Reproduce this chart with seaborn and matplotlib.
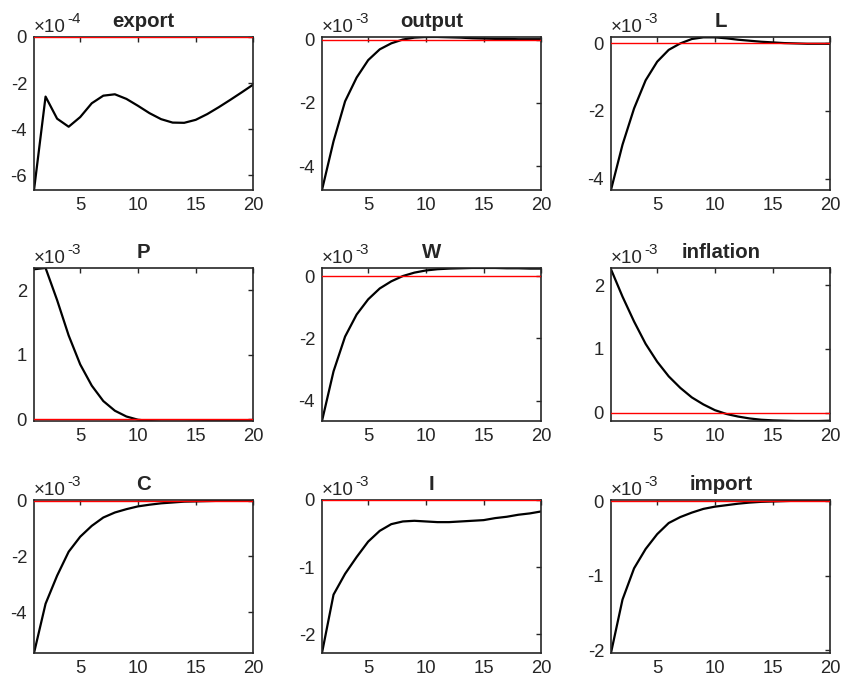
import numpy as np
import pandas as pd
import matplotlib
matplotlib.use("Agg")
import matplotlib.pyplot as plt
import seaborn as sns

# 脉冲响应数据（每个变量单独一个数组，单位见 scale）
horizon = list(range(1, 21))

export = [-6.65, -2.59, -3.55, -3.90, -3.48, -2.88, -2.55, -2.49, -2.69, -2.99,
          -3.31, -3.57, -3.72, -3.73, -3.60, -3.35, -3.05, -2.73, -2.40, -2.06]
output = [-4.75, -3.21, -1.95, -1.20, -0.65, -0.31, -0.12, 0.00, 0.06, 0.08,
          0.08, 0.07, 0.06, 0.04, 0.03, 0.02, 0.02, 0.01, 0.01, 0.01]
L = [-4.34, -3.00, -1.93, -1.10, -0.55, -0.20, -0.01, 0.12, 0.17, 0.17,
     0.14, 0.10, 0.07, 0.04, 0.02, 0.00, -0.01, -0.02, -0.02, -0.02]
P = [2.33, 2.35, 1.85, 1.30, 0.85, 0.52, 0.28, 0.13, 0.04, -0.01,
     -0.03, -0.04, -0.04, -0.04, -0.035, -0.03, -0.025, -0.02, -0.02, -0.02]
W = [-4.66, -3.06, -1.94, -1.23, -0.74, -0.39, -0.16, 0.01, 0.12, 0.19,
     0.23, 0.25, 0.26, 0.27, 0.27, 0.27, 0.26, 0.26, 0.25, 0.25]
inflation = [2.25, 1.82, 1.43, 1.08, 0.80, 0.57, 0.39, 0.24, 0.13, 0.04,
             -0.02, -0.06, -0.09, -0.11, -0.12, -0.125, -0.13, -0.13, -0.13, -0.125]
C = [-5.47, -3.70, -2.69, -1.83, -1.29, -0.90, -0.60, -0.42, -0.30, -0.20,
     -0.14, -0.09, -0.06, -0.03, -0.02, -0.01, 0.00, 0.01, 0.01, 0.01]
I = [-2.28, -1.41, -1.10, -0.85, -0.62, -0.46, -0.36, -0.32, -0.31, -0.32,
     -0.33, -0.33, -0.32, -0.31, -0.30, -0.27, -0.25, -0.22, -0.20, -0.17]
imp = [-2.04, -1.32, -0.90, -0.64, -0.44, -0.29, -0.21, -0.15, -0.10, -0.07,
       -0.05, -0.03, -0.015, -0.005, 0.00, 0.005, 0.01, 0.01, 0.01, 0.01]

names = ["export", "output", "L", "P", "W", "inflation", "C", "I", "import"]
series = [export, output, L, P, W, inflation, C, I, imp]
scale = [-4, -3, -3, -3, -3, -3, -3, -3, -3]
yticks = [[-6, -4, -2, 0], [-4, -2, 0], [-4, -2, 0], [0, 1, 2], [-4, -2, 0],
          [0, 1, 2], [-4, -2, 0], [-2, -1, 0], [-2, -1, 0]]
ylims = [(-6.65, 0), (-4.75, 0.08), (-4.34, 0.18), (-0.03, 2.35), (-4.66, 0.27),
         (-0.13, 2.27), (-5.47, 0.03), (-2.28, 0), (-2.04, 0.02)]

sns.set_style("white")
plt.rcParams['font.family'] = ['Liberation Sans', 'DejaVu Sans']
plt.rcParams['axes.unicode_minus'] = False

fig = plt.figure(figsize=(8.44, 6.85), dpi=100)
col_left = [0.0403, 0.3815, 0.7239]
row_bottom = [0.7226, 0.3854, 0.0467]
w, h = 0.2600, 0.2234
dark = '#262626'

for i, name in enumerate(names):
    r, c = divmod(i, 3)
    ax = fig.add_axes([col_left[c], row_bottom[r], w, h])
    df = pd.DataFrame({'t': horizon, 'v': series[i]})
    sns.lineplot(data=df, x='t', y='v', ax=ax, color='black', linewidth=1.6)
    ax.axhline(0, color='red', linewidth=1.0, zorder=3)
    ax.set_xlim(1, 20)
    ax.set_ylim(*ylims[i])
    ax.set_xticks([5, 10, 15, 20])
    ax.set_yticks(yticks[i])
    ax.set_xlabel('')
    ax.set_ylabel('')
    ax.tick_params(direction='in', length=3.5, width=1.0, colors=dark,
                   labelsize=13.3, top=True, right=True, pad=5)
    for s in ax.spines.values():
        s.set_color(dark)
        s.set_linewidth(1.2)
    ax.set_title(name, fontsize=14.7, fontweight='bold', pad=7)
    # 科学计数法标注 ×10^-n
    base = ax.annotate('\u00d710', xy=(0.0, 1.0), xycoords='axes fraction',
                       xytext=(0, 1), textcoords='offset points',
                       ha='left', va='bottom', fontsize=13.5, color=dark)
    ax.annotate('%d' % scale[i], xy=(1.0, 0.55), xycoords=base,
                xytext=(1, 0), textcoords='offset points',
                ha='left', va='bottom', fontsize=11, color=dark)

fig.savefig('out.png', dpi=100)
